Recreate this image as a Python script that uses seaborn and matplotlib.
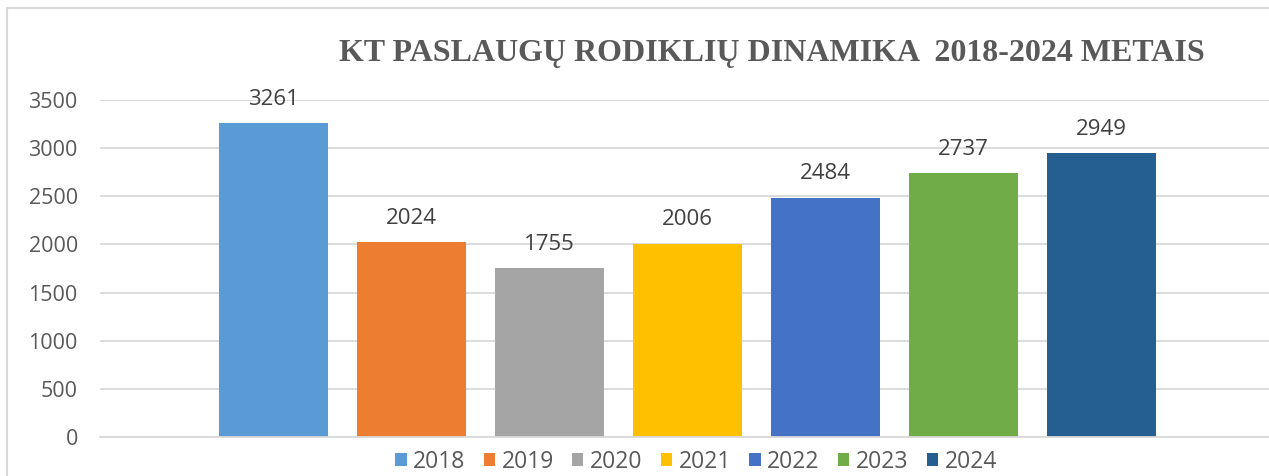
import matplotlib
matplotlib.use("Agg")
import matplotlib.pyplot as plt
from matplotlib.patches import Rectangle, Patch
import seaborn as sns
import pandas as pd

years = ["2018", "2019", "2020", "2021", "2022", "2023", "2024"]
values = [3261, 2024, 1755, 2006, 2484, 2737, 2949]
colors = ["#5B9BD5", "#ED7D31", "#A5A5A5", "#FFC000", "#4472C4", "#70AD47", "#255E91"]
title = "KT PASLAUGŲ RODIKLIŲ DINAMIKA  2018-2024 METAIS"
yticks = [0, 500, 1000, 1500, 2000, 2500, 3000, 3500]

sns.set_theme(style="white")
plt.rcParams["font.family"] = ["Open Sans", "DejaVu Sans"]

W, H = 1269, 476
fig = plt.figure(figsize=(W / 100, H / 100), dpi=100)
ax = fig.add_axes([100 / W, (H - 437) / H, (1269 - 100) / W, (437 - 100) / H])

df = pd.DataFrame({"year": years, "value": values})
sns.barplot(data=df, x="year", y="value", hue="year", palette=colors,
            width=0.79, legend=False, ax=ax, saturation=1, linewidth=0)

ax.set_xlim(-1.257, 7.214)
ax.set_ylim(0, 3500)
ax.set_yticks(yticks)
ax.set_yticklabels([str(t) for t in yticks], fontsize=15.5, color="#595959")
ax.tick_params(axis="y", length=0, pad=16)
ax.set_xticks([])
ax.set_xlabel("")
ax.set_ylabel("")
ax.grid(axis="y", color="#D9D9D9", linewidth=1.3)
ax.set_axisbelow(True)
for s in ["top", "right", "left"]:
    ax.spines[s].set_visible(False)
ax.spines["bottom"].set_color("#D9D9D9")
ax.spines["bottom"].set_linewidth(1.3)

for i, v in enumerate(values):
    ax.annotate(str(v), (i, v), xytext=(0, 24), textcoords="offset pixels",
                ha="center", va="center", fontsize=16, color="#404040")

fig.text(772 / W, (H - 53) / H, title, ha="center", va="center",
         fontsize=23, fontweight="bold", color="#595959",
         family=["Liberation Serif", "DejaVu Serif"])

handles = [Patch(facecolor=c, edgecolor="none") for c in colors]
ax.legend(handles, years, loc="center", bbox_to_anchor=(696 / W, (H - 462) / H),
          bbox_transform=fig.transFigure, ncol=7, frameon=False,
          handlelength=0.5, handleheight=0.5, handletextpad=0.28,
          columnspacing=0.8, labelcolor="#595959", prop={"size": 16.5})

fig.patches.append(Rectangle((7 / W, -0.2), 1.2, (H - 8) / H + 0.2,
                             transform=fig.transFigure, fill=False,
                             edgecolor="#D9D9D9", linewidth=1.5))

fig.savefig("out.png", dpi=100)
